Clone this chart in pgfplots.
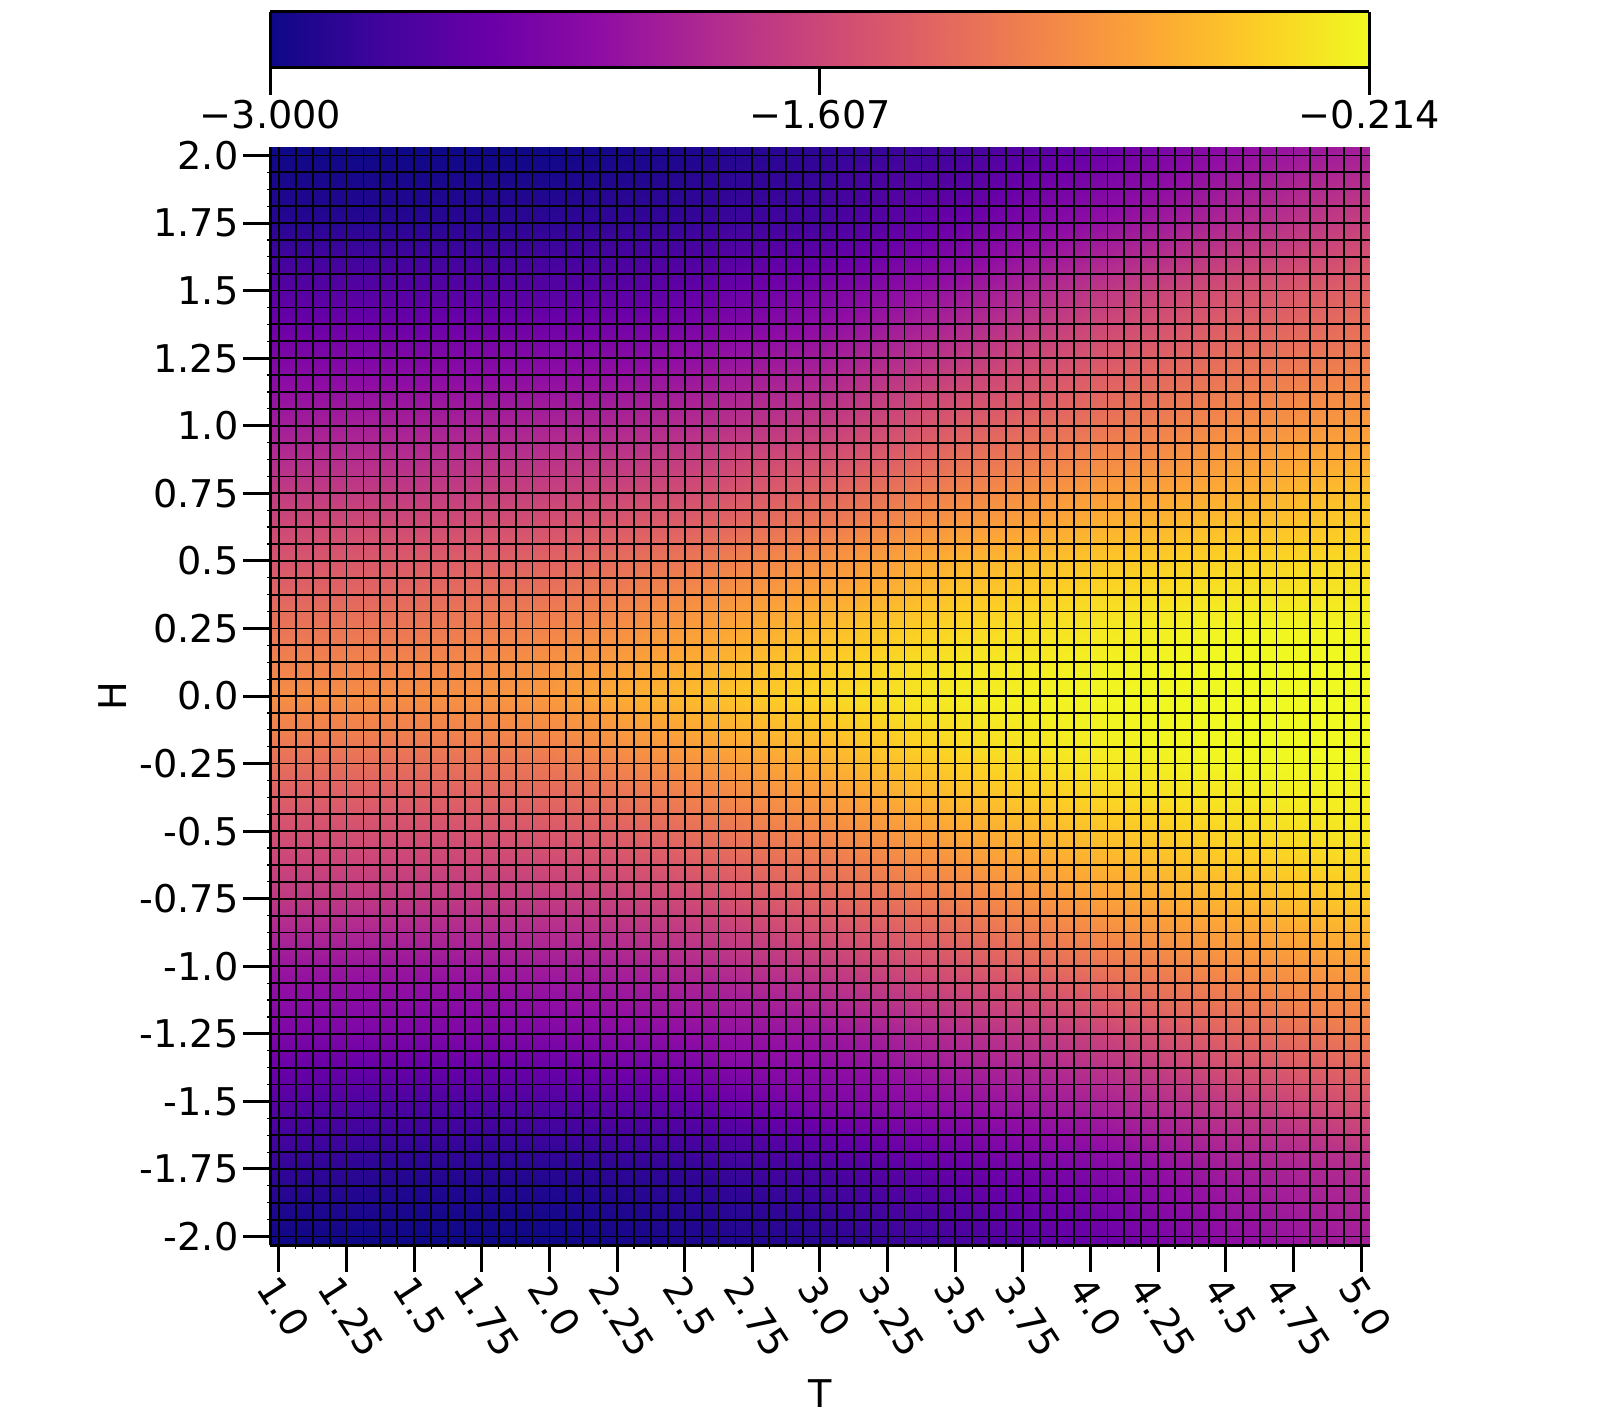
\documentclass[border=0pt]{standalone}
\usepackage{fontspec}
\setmainfont{DejaVu Sans}
\usepackage{pgfplots}
\pgfplotsset{compat=1.18}
\usepackage{pgfplotstable}
\pgfplotsset{colormap={plasma}{
  rgb255=(13,8,135) rgb255=(65,4,157) rgb255=(106,0,168) rgb255=(143,13,164)
  rgb255=(177,42,144) rgb255=(204,71,120) rgb255=(225,100,98) rgb255=(242,132,75)
  rgb255=(252,166,54) rgb255=(252,206,37) rgb255=(240,249,33)}}
% one row per H, one column per T: 0.96875 1.5 2 2.25 2.5 3 3.5 4 4.5 5.03125
\pgfplotstableread{
T H v
0.96875 2.03125 -3.00
1.5 2.03125 -3.00
2 2.03125 -3.00
2.25 2.03125 -2.96
2.5 2.03125 -2.92
3 2.03125 -2.83
3.5 2.03125 -2.72
4 2.03125 -2.47
4.5 2.03125 -2.19
5.03125 2.03125 -2.00
0.96875 1.75 -2.86
1.5 1.75 -2.86
2 1.75 -2.83
2.25 1.75 -2.80
2.5 1.75 -2.78
3 1.75 -2.69
3.5 1.75 -2.44
4 1.75 -2.16
4.5 1.75 -1.91
5.03125 1.75 -1.66
0.96875 1.5 -2.58
1.5 1.5 -2.58
2 1.5 -2.58
2.25 1.5 -2.55
2.5 1.5 -2.50
3 1.5 -2.33
3.5 1.5 -2.08
4 1.5 -1.77
4.5 1.5 -1.52
5.03125 1.5 -1.33
0.96875 1.25 -2.30
1.5 1.25 -2.28
2 1.25 -2.25
2.25 1.25 -2.22
2.5 1.25 -2.16
3 1.25 -2.02
3.5 1.25 -1.75
4 1.25 -1.47
4.5 1.25 -1.24
5.03125 1.25 -1.11
0.96875 1 -2.00
1.5 1 -1.97
2 1 -1.94
2.25 1 -1.91
2.5 1 -1.86
3 1 -1.72
3.5 1 -1.41
4 1 -1.19
4.5 1 -0.99
5.03125 1 -0.85
0.96875 0.75 -1.72
1.5 0.75 -1.72
2 0.75 -1.66
2.25 0.75 -1.61
2.5 0.75 -1.55
3 0.75 -1.33
3.5 0.75 -1.05
4 0.75 -0.85
4.5 0.75 -0.72
5.03125 0.75 -0.58
0.96875 0.5 -1.47
1.5 0.5 -1.41
2 0.5 -1.33
2.25 0.5 -1.24
2.5 0.5 -1.16
3 0.5 -0.94
3.5 0.5 -0.69
4 0.5 -0.55
4.5 0.5 -0.46
5.03125 0.5 -0.41
0.96875 0.25 -1.19
1.5 0.25 -1.16
2 0.25 -1.05
2.25 0.25 -0.97
2.5 0.25 -0.85
3 0.25 -0.63
3.5 0.25 -0.44
4 0.25 -0.33
4.5 0.25 -0.24
5.03125 0.25 -0.24
0.96875 0.125 -1.08
1.5 0.125 -1.05
2 0.125 -0.94
2.25 0.125 -0.85
2.5 0.125 -0.74
3 0.125 -0.52
3.5 0.125 -0.35
4 0.125 -0.27
4.5 0.125 -0.214
5.03125 0.125 -0.214
0.96875 0 -0.97
1.5 0 -0.97
2 0 -0.88
2.25 0 -0.74
2.5 0 -0.63
3 0 -0.44
3.5 0 -0.30
4 0 -0.24
4.5 0 -0.214
5.03125 0 -0.214
0.96875 -0.125 -1.08
1.5 -0.125 -1.08
2 -0.125 -0.99
2.25 -0.125 -0.88
2.5 -0.125 -0.77
3 -0.125 -0.58
3.5 -0.125 -0.38
4 -0.125 -0.27
4.5 -0.125 -0.214
5.03125 -0.125 -0.214
0.96875 -0.25 -1.24
1.5 -0.25 -1.24
2 -0.25 -1.16
2.25 -0.25 -1.05
2.5 -0.25 -0.94
3 -0.25 -0.72
3.5 -0.25 -0.49
4 -0.25 -0.33
4.5 -0.25 -0.24
5.03125 -0.25 -0.214
0.96875 -0.5 -1.52
1.5 -0.5 -1.52
2 -0.5 -1.44
2.25 -0.5 -1.36
2.5 -0.5 -1.24
3 -0.5 -1.02
3.5 -0.5 -0.77
4 -0.5 -0.58
4.5 -0.5 -0.44
5.03125 -0.5 -0.33
0.96875 -0.75 -1.75
1.5 -0.75 -1.75
2 -0.75 -1.72
2.25 -0.75 -1.66
2.5 -0.75 -1.58
3 -0.75 -1.33
3.5 -0.75 -1.08
4 -0.75 -0.83
4.5 -0.75 -0.66
5.03125 -0.75 -0.52
0.96875 -1 -2.08
1.5 -1 -2.08
2 -1 -2.02
2.25 -1 -1.97
2.5 -1 -1.89
3 -1 -1.72
3.5 -1 -1.47
4 -1 -1.19
4.5 -1 -0.97
5.03125 -1 -0.83
0.96875 -1.25 -2.30
1.5 -1.25 -2.30
2 -1.25 -2.28
2.25 -1.25 -2.22
2.5 -1.25 -2.16
3 -1.25 -2.08
3.5 -1.25 -1.86
4 -1.25 -1.66
4.5 -1.25 -1.33
5.03125 -1.25 -1.11
0.96875 -1.5 -2.58
1.5 -1.5 -2.64
2 -1.5 -2.61
2.25 -1.5 -2.55
2.5 -1.5 -2.50
3 -1.5 -2.30
3.5 -1.5 -2.14
4 -1.5 -1.97
4.5 -1.5 -1.72
5.03125 -1.5 -1.47
0.96875 -1.75 -2.80
1.5 -1.75 -2.86
2 -1.75 -2.86
2.25 -1.75 -2.83
2.5 -1.75 -2.80
3 -1.75 -2.67
3.5 -1.75 -2.47
4 -1.75 -2.28
4.5 -1.75 -2.02
5.03125 -1.75 -1.86
0.96875 -2.03125 -3.00
1.5 -2.03125 -3.00
2 -2.03125 -3.00
2.25 -2.03125 -2.96
2.5 -2.03125 -2.92
3 -2.03125 -2.86
3.5 -2.03125 -2.69
4 -2.03125 -2.47
4.5 -2.03125 -2.19
5.03125 -2.03125 -2.00
}\heat
\begin{document}
\begin{tikzpicture}
\useasboundingbox (-135.25pt,-87.5pt) rectangle (664.75pt,622.5pt);
\begin{axis}[
  at={(0,0)}, anchor=south west,
  scale only axis, width=549.5pt, height=549pt,
  view={0}{90},
  colormap name=plasma,
  point meta min=-3, point meta max=-0.214,
  xmin=0.96875, xmax=5.03125, ymin=-2.03125, ymax=2.03125,
  axis lines*=left,
  axis line style={line width=1.5pt},
  axis on top,
  grid=both,
  major grid style={black, line width=0.9pt},
  minor grid style={black, line width=0.9pt},
  xtick={1,1.25,...,5}, ytick={-2,-1.75,...,2},
  minor tick num=3,
  tick align=outside,
  major tick length=13.5pt, minor tick length=1.8pt,
  major tick style={black, line width=1.5pt},
  minor tick style={black, line width=0.6pt},
  tick label style={font=\fontsize{19.1}{23}\selectfont},
  label style={font=\fontsize{19.1}{23}\selectfont},
  xticklabel style={xshift=2.5pt, yshift=3pt},
  yticklabel style={xshift=1pt},
  xticklabels={\rotatebox{-57}{1.0},\rotatebox{-57}{1.25},\rotatebox{-57}{1.5},\rotatebox{-57}{1.75},\rotatebox{-57}{2.0},\rotatebox{-57}{2.25},\rotatebox{-57}{2.5},\rotatebox{-57}{2.75},\rotatebox{-57}{3.0},\rotatebox{-57}{3.25},\rotatebox{-57}{3.5},\rotatebox{-57}{3.75},\rotatebox{-57}{4.0},\rotatebox{-57}{4.25},\rotatebox{-57}{4.5},\rotatebox{-57}{4.75},\rotatebox{-57}{5.0}},
  yticklabels={-2.0,-1.75,-1.5,-1.25,-1.0,-0.75,-0.5,-0.25,0.0,0.25,0.5,0.75,1.0,1.25,1.5,1.75,2.0},
  xlabel={T}, ylabel={H},
  xlabel style={at={(axis description cs:0.5,-0.135)}, anchor=center},
  ylabel style={at={(axis description cs:-0.144,0.5)}, anchor=center},
]
\addplot3[surf, shader=interp, mesh/ordering=x varies, mesh/cols=10,
  point meta=\thisrow{v}] table[x=T, y=H, z=v] {\heat};
\end{axis}
% colour scale, its own axis
\begin{axis}[
  at={(0,588.5pt)}, anchor=south west,
  scale only axis, width=549.5pt, height=28pt,
  view={0}{90},
  colormap name=plasma,
  point meta min=-3, point meta max=-0.214,
  xmin=-3, xmax=-0.214, ymin=0, ymax=1,
  axis line style={line width=1.5pt},
  axis on top,
  xtick={-3,-1.607,-0.214},
  xticklabels={−3.000,−1.607,−0.214},
  xtick pos=lower, ytick=\empty,
  tick align=outside,
  major tick length=13.5pt,
  major tick style={black, line width=1.5pt},
  tick label style={font=\fontsize{19.1}{23}\selectfont, yshift=1pt},
]
\addplot3[surf, shader=interp, mesh/ordering=x varies, mesh/cols=2, point meta=x]
  coordinates {(-3,0,0) (-0.214,0,0) (-3,1,0) (-0.214,1,0)};
\end{axis}
\end{tikzpicture}
\end{document}
